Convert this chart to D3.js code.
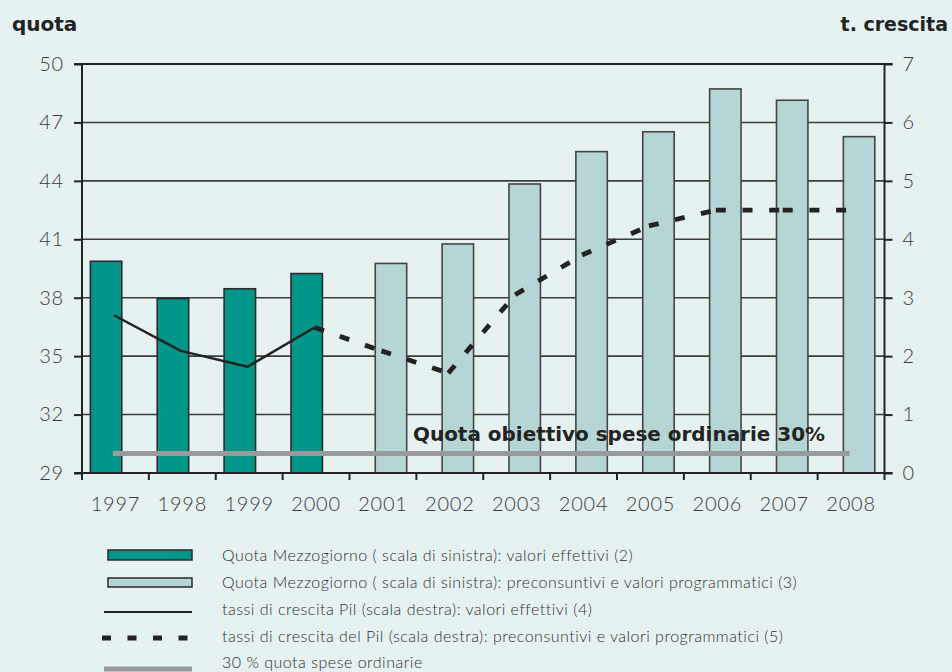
<!DOCTYPE html>
<html>
<head>
<meta charset="utf-8">
<script src="https://cdn.jsdelivr.net/npm/d3@7/dist/d3.min.js"></script>
<style>
  html, body { margin: 0; padding: 0; background: #e6f2f2; }
  svg { display: block; }
</style>
</head>
<body>
<svg id="chart" width="952" height="672"></svg>
<script>
// Categories and series
const years = ["1997","1998","1999","2000","2001","2002","2003","2004","2005","2006","2007","2008"];
const quotaEffettivi = [39.87, 37.96, 38.46, 39.24];                                   // 1997-2000
const quotaProgrammatici = [39.76, 40.76, 43.84, 45.5, 46.52, 48.72, 48.14, 46.27];    // 2001-2008
const pilEffettivi = [2.70, 2.09, 1.82, 2.49];                                          // 1997-2000
const pilProgrammatici = [2.49, 2.09, 1.71, 3.05, 3.73, 4.23, 4.5, 4.5, 4.5];           // 2000-2008
const quotaObiettivo = 30;
const leftTicks = [29, 32, 35, 38, 41, 44, 47, 50];
const rightTicks = [0, 1, 2, 3, 4, 5, 6, 7];

const legendLabels = [
  "Quota Mezzogiorno ( scala di sinistra): valori effettivi (2)",
  "Quota Mezzogiorno ( scala di sinistra): preconsuntivi e valori programmatici (3)",
  "tassi di crescita Pil (scala destra): valori effettivi (4)",
  "tassi di crescita del Pil (scala destra): preconsuntivi e valori programmatici (5)",
  "30 % quota spese ordinarie"
];

const COL_DARK = "#00968a";
const COL_LIGHT = "#b5d6d5";
const COL_INK = "#232323";
const COL_GRID = "#3c3c3c";
const COL_TARGET = "#9a9a9c";
const tickFont = "Lato, 'DejaVu Sans', sans-serif";

const svg = d3.select("#chart");
const plot = { left: 82, right: 884.5, top: 64, bottom: 473 };

const x = d3.scaleBand().domain(years).range([plot.left, plot.right]).padding(0);
const yL = d3.scaleLinear().domain([29, 50]).range([plot.bottom, plot.top]);
const yR = d3.scaleLinear().domain([0, 7]).range([plot.bottom, plot.top]);
const bw = x.bandwidth();
const barW = bw * 0.47;
const cx = d => x(d) + bw / 2;
const lx = d => cx(d) - 1.5;

// Gridlines
svg.append("g")
  .selectAll("line")
  .data(leftTicks.slice(1))
  .join("line")
  .attr("x1", plot.left).attr("x2", plot.right)
  .attr("y1", d => yL(d)).attr("y2", d => yL(d))
  .attr("stroke", COL_GRID).attr("stroke-width", 1.6);

// Bars: effective values
const effYears = years.slice(0, 4);
svg.append("g")
  .selectAll("rect")
  .data(quotaEffettivi)
  .join("rect")
  .attr("x", (d, i) => cx(effYears[i]) - bw * 0.14 - barW / 2)
  .attr("width", barW)
  .attr("y", d => yL(d))
  .attr("height", d => yL(29) - yL(d))
  .attr("fill", COL_DARK)
  .attr("stroke", "#2a2a2a").attr("stroke-width", 1.6);

// Bars: forecast / programme values
const progYears = years.slice(4);
svg.append("g")
  .selectAll("rect")
  .data(quotaProgrammatici)
  .join("rect")
  .attr("x", (d, i) => cx(progYears[i]) + bw * 0.12 - barW / 2)
  .attr("width", barW)
  .attr("y", d => yL(d))
  .attr("height", d => yL(29) - yL(d))
  .attr("fill", COL_LIGHT)
  .attr("stroke", "#444").attr("stroke-width", 1.6);

// Target share line (left scale)
svg.append("line")
  .attr("x1", lx(years[0]) - 1).attr("x2", lx(years[years.length - 1]))
  .attr("y1", yL(quotaObiettivo)).attr("y2", yL(quotaObiettivo))
  .attr("stroke", COL_TARGET).attr("stroke-width", 5);

svg.append("text")
  .attr("x", 413).attr("y", 441)
  .attr("font-family", "'DejaVu Sans', sans-serif")
  .attr("font-weight", "bold")
  .attr("font-size", 19)
  .attr("textLength", 412).attr("lengthAdjust", "spacingAndGlyphs")
  .attr("fill", COL_INK)
  .text("Quota obiettivo spese ordinarie 30%");

// Growth rate: effective (solid)
const lineR = d3.line().x(d => lx(d.year)).y(d => yR(d.v));
svg.append("path")
  .datum(pilEffettivi.map((v, i) => ({ year: years[i], v })))
  .attr("d", lineR)
  .attr("fill", "none")
  .attr("stroke", COL_INK).attr("stroke-width", 2.5)
  .attr("stroke-linejoin", "round");

// Growth rate: forecast (dashed, pattern restarts on each segment)
const progPts = pilProgrammatici.map((v, i) => ({ year: years[i + 3], v }));
svg.append("g")
  .selectAll("path")
  .data(d3.pairs(progPts))
  .join("path")
  .attr("d", d => lineR(d))
  .attr("fill", "none")
  .attr("stroke", COL_INK).attr("stroke-width", 4.8)
  .attr("stroke-dasharray", "10,16.7");

// Axes
const axisL = d3.axisLeft(yL).tickValues(leftTicks).tickFormat(d3.format("d")).tickSize(8).tickPadding(10);
const axisR = d3.axisRight(yR).tickValues(rightTicks).tickFormat(d3.format("d")).tickSize(8).tickPadding(10);
const axisB = d3.axisBottom(x).tickSize(0).tickPadding(24);

function styleAxis(g) {
  g.select(".domain").attr("stroke", COL_INK).attr("stroke-width", 2);
  g.selectAll(".tick line").attr("stroke", COL_INK).attr("stroke-width", 2);
  g.selectAll("text")
    .attr("font-family", tickFont)
    .attr("font-weight", 300)
    .attr("font-size", 20)
    .attr("letter-spacing", "0.8px")
    .attr("fill", "#3a3a3a");
}

svg.append("g").attr("transform", `translate(${plot.left},0)`).call(axisL).call(styleAxis)
  .call(g => g.select(".domain").attr("d", `M0,${plot.top}V${plot.bottom + 7}`));
svg.append("g").attr("transform", `translate(${plot.right},0)`).call(axisR).call(styleAxis)
  .call(g => g.select(".domain").attr("d", `M0,${plot.top}V${plot.bottom + 7}`));

const gB = svg.append("g").attr("transform", `translate(0,${plot.bottom})`).call(axisB).call(styleAxis);
gB.select(".domain").attr("d", `M${plot.left - 8},0H${plot.right + 8}`);
// category separators below the axis
gB.append("g")
  .selectAll("line")
  .data(years.slice(1))
  .join("line")
  .attr("x1", d => x(d)).attr("x2", d => x(d))
  .attr("y1", 0).attr("y2", 7)
  .attr("stroke", COL_INK).attr("stroke-width", 2);

// Top border (50 gridline)
svg.append("line")
  .attr("x1", plot.left - 8).attr("x2", plot.right + 8)
  .attr("y1", yL(50)).attr("y2", yL(50))
  .attr("stroke", COL_INK).attr("stroke-width", 2);

// Axis titles
svg.append("text")
  .attr("x", 12).attr("y", 31)
  .attr("font-family", "'DejaVu Sans', sans-serif").attr("font-weight", "bold")
  .attr("font-size", 20).attr("fill", COL_INK)
  .text("quota");
svg.append("text")
  .attr("x", 948).attr("y", 31).attr("text-anchor", "end")
  .attr("font-family", "'DejaVu Sans', sans-serif").attr("font-weight", "bold")
  .attr("font-size", 19).attr("fill", COL_INK)
  .text("t. crescita");

// Legend
const legend = svg.append("g");
const rowsY = [555, 582, 609, 636, 662];
const swX0 = 104, swX1 = 192;

legend.append("rect").attr("x", 108).attr("y", rowsY[0] - 5).attr("width", 84).attr("height", 10)
  .attr("fill", COL_DARK).attr("stroke", "#2a2a2a").attr("stroke-width", 1.5);
legend.append("rect").attr("x", 108).attr("y", rowsY[1] - 4).attr("width", 84).attr("height", 9)
  .attr("fill", COL_LIGHT).attr("stroke", "#2a2a2a").attr("stroke-width", 1.5);
legend.append("line").attr("x1", swX0).attr("x2", swX1).attr("y1", rowsY[2] + 3).attr("y2", rowsY[2] + 3)
  .attr("stroke", COL_INK).attr("stroke-width", 1.8);
legend.append("line").attr("x1", swX0 - 2).attr("x2", swX1).attr("y1", rowsY[3] + 2).attr("y2", rowsY[3] + 2)
  .attr("stroke", COL_INK).attr("stroke-width", 5).attr("stroke-dasharray", "9,16.5");
legend.append("line").attr("x1", swX0).attr("x2", swX1).attr("y1", rowsY[4] + 7).attr("y2", rowsY[4] + 7)
  .attr("stroke", COL_TARGET).attr("stroke-width", 5);

legend.selectAll("text")
  .data(legendLabels)
  .join("text")
  .attr("x", 222)
  .attr("y", (d, i) => rowsY[i] + 6)
  .attr("font-family", tickFont)
  .attr("font-weight", 300)
  .attr("font-size", 16)
  .attr("letter-spacing", "0.5px")
  .attr("fill", "#2e2e2e")
  .text(d => d);
</script>
</body>
</html>
